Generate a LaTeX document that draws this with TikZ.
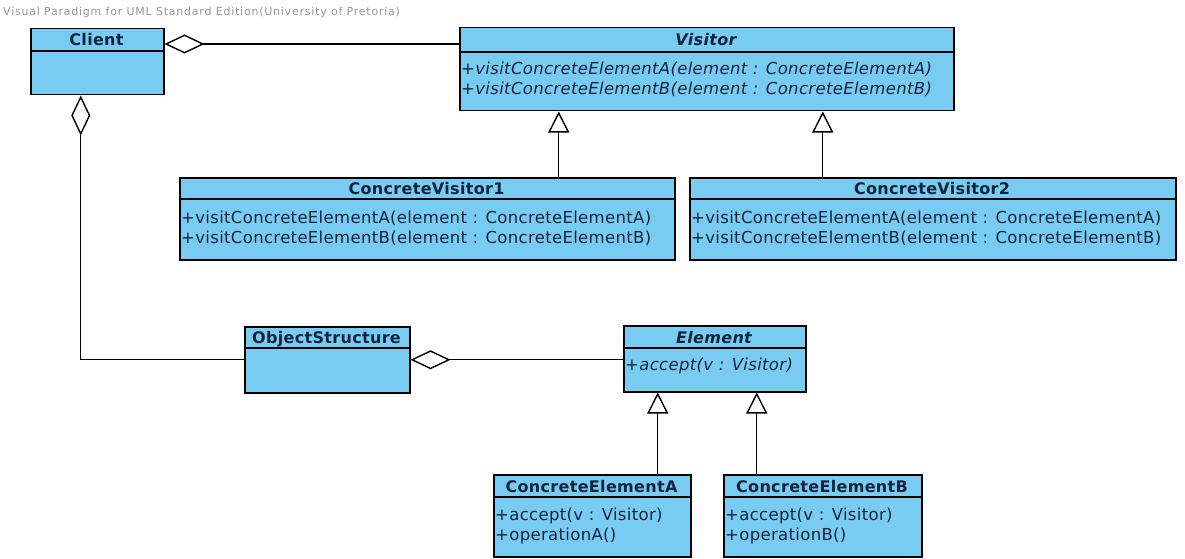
\documentclass[tikz,border=0pt]{standalone}
\usepackage{fontspec}
\newfontfamily\umlfont{DejaVu Sans}[LetterSpace=2]
\newfontfamily\creditfont{DejaVu Sans}[LetterSpace=7]
\usetikzlibrary{arrows.meta}
\definecolor{umlblue}{RGB}{120,204,242}
\definecolor{umlink}{RGB}{20,35,60}
\definecolor{creditgray}{RGB}{150,150,150}

\begin{document}
\begin{tikzpicture}  % ------ Visitor pattern ------------------
      [x=1pt,y=-1pt,
       umlbox/.style={draw=black, line width=1.5pt, fill=umlblue, anchor=north west, inner sep=0pt},
       umlline/.style={line width=1.5pt},
       umlname/.style={anchor=base, inner sep=0pt, text=umlink, font=\umlfont\bfseries\fontsize{16}{20}\selectfont},
       umlops/.style={anchor=base west, inner sep=0pt, align=left, text=umlink, font=\umlfont\fontsize{16.5}{20}\selectfont},
       aggr/.style={line width=1.4pt, {Diamond[length=40pt, width=19pt, fill=white]}-},
       gen/.style={line width=1.4pt, -{Triangle[length=21pt, width=21pt, fill=white]}}]
    \useasboundingbox (0,0) rectangle (1185,559);
    \node [anchor=base west, inner sep=0pt, text=creditgray, font=\creditfont\fontsize{11}{13}\selectfont]
        (credit) at (3,16) {Visual Paradigm for UML Standard Edition(University of Pretoria)};
    % Client
    \node [umlbox, minimum width=133pt, minimum height=66pt] (client) at (30,28) {};
    \draw [umlline] (30,51) -- (163,51);
    \node [umlname] (clientname) at (96.5,46) {Client};
    % Visitor
    \node [umlbox, minimum width=494pt, minimum height=83pt] (visitor) at (459,27) {};
    \draw [umlline] (459,52) -- (953,52);
    \node [umlname] (visitorname) at (706,46) {\itshape Visitor};
    \node [umlops, font=\umlfont\itshape\fontsize{16.5}{20}\selectfont] (visitorops) at (461,95)
        {+visitConcreteElementA(element : ConcreteElementA)\\+visitConcreteElementB(element : ConcreteElementB)};
    % ConcreteVisitor1 and 2
    \node [umlbox, minimum width=495pt, minimum height=82pt] (cv1) at (179,177) {};
    \draw [umlline] (179,199) -- (674,199);
    \node [umlname] (cv1name) at (426.5,194.5) {ConcreteVisitor1};
    \node [umlops] (cv1ops) at (181,243)
        {+visitConcreteElementA(element : ConcreteElementA)\\+visitConcreteElementB(element : ConcreteElementB)};
    \node [umlbox, minimum width=486pt, minimum height=82pt] (cv2) at (689,177) {};
    \draw [umlline] (689,199) -- (1175,199);
    \node [umlname] (cv2name) at (932,194.5) {ConcreteVisitor2};
    \node [umlops] (cv2ops) at (691,243)
        {+visitConcreteElementA(element : ConcreteElementA)\\+visitConcreteElementB(element : ConcreteElementB)};
    % ObjectStructure
    \node [umlbox, minimum width=165pt, minimum height=66pt] (objstruct) at (244,326) {};
    \draw [umlline] (244,348) -- (409,348);
    \node [umlname] (objstructname) at (326.5,343.5) {ObjectStructure};
    % Element
    \node [umlbox, minimum width=182pt, minimum height=66pt] (element) at (623,325) {};
    \draw [umlline] (623,348) -- (805,348);
    \node [umlname] (elementname) at (714,343) {\itshape Element};
    \node [umlops, font=\umlfont\itshape\fontsize{16.5}{20}\selectfont] (elementops) at (625,370) {+accept(v : Visitor)};
    % ConcreteElementA and B
    \node [umlbox, minimum width=197pt, minimum height=82pt] (cea) at (493,474) {};
    \draw [umlline] (493,497) -- (690,497);
    \node [umlname] (ceaname) at (591.5,492) {ConcreteElementA};
    \node [umlops] (ceaops) at (495,540) {+accept(v : Visitor)\\+operationA()};
    \node [umlbox, minimum width=198pt, minimum height=82pt] (ceb) at (723,474) {};
    \draw [umlline] (723,497) -- (921,497);
    \node [umlname] (cebname) at (822,492) {ConcreteElementB};
    \node [umlops] (cebops) at (725,540) {+accept(v : Visitor)\\+operationB()};
    % aggregations
    \draw [aggr] ([yshift=-16pt]client.north east) coordinate (c1) -- (c1 -| visitor.west);
    \draw [aggr] ([xshift=-16.5pt]client.south) |- (objstruct.west);
    \draw [aggr] (objstruct.east) -- (objstruct.east -| element.west);
    % generalizations
    \draw [gen] ([xshift=131.5pt]cv1.north) -- ([xshift=131.5pt]cv1.north |- visitor.south);
    \draw [gen] ([xshift=-110pt]cv2.north) -- ([xshift=-110pt]cv2.north |- visitor.south);
    \draw [gen] ([xshift=65.5pt]cea.north) -- ([xshift=65.5pt]cea.north |- element.south);
    \draw [gen] ([xshift=-66pt]ceb.north) -- ([xshift=-66pt]ceb.north |- element.south);
\end{tikzpicture}
\end{document}
